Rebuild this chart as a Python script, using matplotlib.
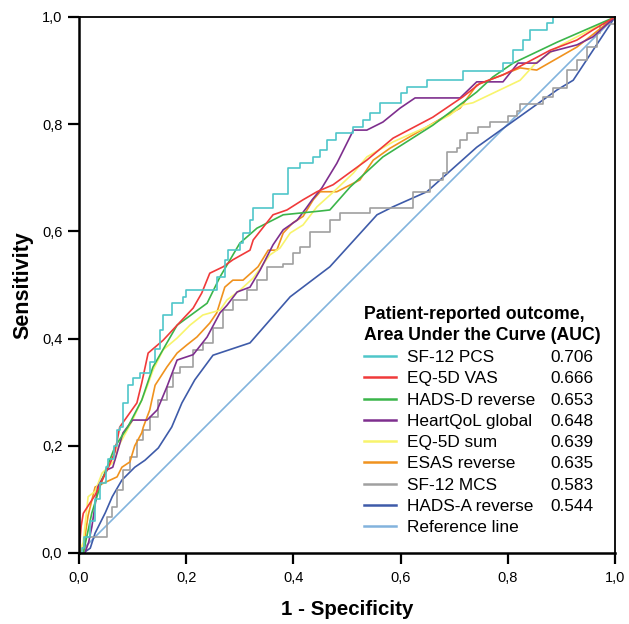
import matplotlib
matplotlib.use("Agg")
import matplotlib.pyplot as plt
from matplotlib.lines import Line2D

plt.rcParams['font.family'] = ['Liberation Sans', 'DejaVu Sans']

names = ["SF-12 PCS", "EQ-5D VAS", "HADS-D reverse", "HeartQoL global",
         "EQ-5D sum", "ESAS reverse", "SF-12 MCS", "HADS-A reverse", "Reference line"]
auc = ["0.706", "0.666", "0.653", "0.648", "0.639", "0.635", "0.583", "0.544", ""]
colors = ["#4fc6c9", "#f03a3a", "#3bb54a", "#7e2f8e", "#f8f46c", "#f0921e",
          "#a0a0a0", "#3e5ba9", "#82b3dd"]

pcs_x = [0, 0.005, 0.01, 0.02, 0.03, 0.04, 0.05, 0.055, 0.065, 0.07, 0.076, 0.083, 0.092, 0.1, 0.114,
         0.132, 0.142, 0.151, 0.157, 0.173, 0.194, 0.2, 0.25, 0.257, 0.272, 0.278, 0.3, 0.306, 0.319,
         0.325, 0.36, 0.362, 0.39, 0.412, 0.436, 0.45, 0.462, 0.48, 0.512, 0.53, 0.543, 0.562, 0.6,
         0.612, 0.649, 0.705, 0.717, 0.785, 0.791, 0.81, 0.828, 0.841, 0.873, 0.884, 1.0]
pcs_y = [0, 0.01, 0.03, 0.06, 0.1, 0.13, 0.16, 0.175, 0.2, 0.23, 0.235, 0.28, 0.313, 0.326, 0.336,
         0.356, 0.38, 0.416, 0.444, 0.466, 0.478, 0.49, 0.49, 0.515, 0.547, 0.565, 0.578, 0.597, 0.621,
         0.643, 0.643, 0.67, 0.718, 0.727, 0.739, 0.752, 0.77, 0.783, 0.795, 0.808, 0.82, 0.839, 0.858,
         0.87, 0.882, 0.882, 0.9, 0.9, 0.914, 0.938, 0.957, 0.976, 0.989, 1.0, 1.0]

vas_x = [0, 0.004, 0.008, 0.03, 0.054, 0.067, 0.076, 0.108, 0.117, 0.129, 0.157, 0.183, 0.213, 0.229,
         0.244, 0.269, 0.287, 0.319, 0.325, 0.362, 0.388, 0.418, 0.444, 0.474, 0.537, 0.586, 0.66,
         0.716, 0.748, 0.791, 0.817, 0.879, 0.929, 0.959, 1.0]
vas_y = [0, 0.05, 0.074, 0.108, 0.158, 0.188, 0.235, 0.28, 0.317, 0.373, 0.397, 0.425, 0.457, 0.485,
         0.522, 0.534, 0.547, 0.565, 0.584, 0.631, 0.64, 0.659, 0.674, 0.687, 0.733, 0.774, 0.813,
         0.851, 0.876, 0.892, 0.905, 0.938, 0.957, 0.976, 1.0]

hadsd_x = [0, 0.008, 0.024, 0.043, 0.067, 0.091, 0.117, 0.138, 0.183, 0.239, 0.263, 0.3, 0.332, 0.381,
           0.45, 0.468, 0.506, 0.567, 0.66, 0.742, 0.772, 0.81, 0.892, 1.0]
hadsd_y = [0, 0.0, 0.075, 0.136, 0.198, 0.235, 0.285, 0.347, 0.425, 0.466, 0.515, 0.578, 0.606, 0.631,
           0.638, 0.64, 0.683, 0.739, 0.798, 0.86, 0.888, 0.914, 0.953, 1.0]

hqol_x = [0, 0.011, 0.018, 0.024, 0.035, 0.052, 0.063, 0.082, 0.1, 0.127, 0.146, 0.164, 0.183, 0.213,
          0.239, 0.263, 0.276, 0.295, 0.319, 0.338, 0.362, 0.381, 0.407, 0.425, 0.435, 0.453, 0.481,
          0.512, 0.537, 0.567, 0.599, 0.627, 0.711, 0.742, 0.791, 0.819, 0.854, 0.879, 0.929, 0.959, 1.0]
hqol_y = [0, 0.0, 0.02, 0.049, 0.123, 0.155, 0.16, 0.224, 0.248, 0.248, 0.267, 0.31, 0.36, 0.37,
          0.403, 0.448, 0.462, 0.487, 0.496, 0.528, 0.575, 0.603, 0.621, 0.645, 0.659, 0.681, 0.727,
          0.789, 0.789, 0.804, 0.83, 0.849, 0.849, 0.879, 0.879, 0.914, 0.914, 0.935, 0.948, 0.963, 1.0]

eqsum_x = [0, 0.008, 0.017, 0.03, 0.043, 0.067, 0.073, 0.1, 0.117, 0.127, 0.138, 0.157, 0.183, 0.207,
           0.231, 0.263, 0.276, 0.3, 0.325, 0.338, 0.356, 0.375, 0.394, 0.418, 0.444, 0.474, 0.512,
           0.537, 0.586, 0.649, 0.692, 0.716, 0.735, 0.823, 0.854, 0.9, 1.0]
eqsum_y = [0, 0.02, 0.105, 0.115, 0.149, 0.173, 0.198, 0.248, 0.285, 0.31, 0.341, 0.379, 0.401, 0.425,
           0.444, 0.453, 0.472, 0.49, 0.513, 0.531, 0.556, 0.569, 0.597, 0.612, 0.646, 0.673, 0.709,
           0.739, 0.767, 0.795, 0.817, 0.836, 0.84, 0.882, 0.916, 0.948, 1.0]

esas_x = [0, 0.008, 0.017, 0.03, 0.071, 0.08, 0.095, 0.104, 0.117, 0.12, 0.132, 0.142, 0.164, 0.183,
          0.201, 0.22, 0.244, 0.257, 0.272, 0.287, 0.306, 0.334, 0.353, 0.369, 0.381, 0.399, 0.418,
          0.437, 0.45, 0.481, 0.524, 0.549, 0.58, 0.649, 0.68, 0.711, 0.742, 0.823, 0.854, 0.929, 1.0]
esas_y = [0, 0.01, 0.07, 0.123, 0.142, 0.16, 0.17, 0.2, 0.224, 0.235, 0.267, 0.313, 0.347, 0.373,
          0.388, 0.403, 0.429, 0.448, 0.496, 0.509, 0.509, 0.534, 0.565, 0.565, 0.597, 0.616, 0.628,
          0.659, 0.674, 0.674, 0.696, 0.733, 0.755, 0.795, 0.813, 0.83, 0.873, 0.905, 0.901, 0.944, 1.0]

mcs_x = [0, 0.011, 0.045, 0.052, 0.062, 0.071, 0.082, 0.095, 0.108, 0.12, 0.132, 0.148, 0.164, 0.176,
         0.188, 0.213, 0.231, 0.25, 0.269, 0.287, 0.313, 0.332, 0.351, 0.381, 0.399, 0.412, 0.431,
         0.468, 0.487, 0.543, 0.621, 0.624, 0.651, 0.655, 0.679, 0.687, 0.705, 0.711, 0.724, 0.744,
         0.767, 0.798, 0.8, 0.817, 0.823, 0.854, 0.866, 0.884, 0.91, 0.929, 0.948, 0.966, 0.972, 1.0]
mcs_y = [0, 0.03, 0.03, 0.067, 0.086, 0.118, 0.155, 0.179, 0.211, 0.23, 0.254, 0.285, 0.31, 0.336,
         0.347, 0.379, 0.392, 0.42, 0.453, 0.472, 0.49, 0.509, 0.534, 0.54, 0.559, 0.571, 0.599,
         0.621, 0.634, 0.643, 0.643, 0.674, 0.674, 0.696, 0.709, 0.748, 0.755, 0.77, 0.783, 0.795,
         0.804, 0.804, 0.815, 0.825, 0.838, 0.838, 0.851, 0.868, 0.901, 0.92, 0.944, 0.97, 0.987, 1.0]

hadsa_x = [0, 0.008, 0.021, 0.03, 0.049, 0.062, 0.08, 0.104, 0.123, 0.148, 0.173, 0.192, 0.216,
           0.25, 0.319, 0.394, 0.468, 0.556, 0.586, 0.649, 0.742, 0.892, 0.922, 1.0]
hadsa_y = [0, 0.0, 0.009, 0.037, 0.075, 0.105, 0.136, 0.16, 0.173, 0.196, 0.235, 0.28, 0.323,
           0.369, 0.392, 0.478, 0.534, 0.631, 0.646, 0.674, 0.757, 0.864, 0.882, 1.0]

ref_x = [0, 1]
ref_y = [0, 1]

series = [(pcs_x, pcs_y, 'steps-post'), (vas_x, vas_y, 'default'), (hadsd_x, hadsd_y, 'default'),
          (hqol_x, hqol_y, 'default'), (eqsum_x, eqsum_y, 'default'), (esas_x, esas_y, 'default'),
          (mcs_x, mcs_y, 'steps-post'), (hadsa_x, hadsa_y, 'default'), (ref_x, ref_y, 'default')]

ticks = [0.0, 0.2, 0.4, 0.6, 0.8, 1.0]
tick_labels = ["0,0", "0,2", "0,4", "0,6", "0,8", "1,0"]

fig = plt.figure(figsize=(6.29, 6.24), dpi=100)
ax = fig.add_axes([79/629, 71/624, 536/629, 536/624])

draw_order = [8, 6, 7, 5, 4, 3, 2, 1, 0]
handles = [None]*9
for i in draw_order:
    x, y, ds = series[i]
    ax.plot(x, y, color=colors[i], lw=1.2, drawstyle=ds, zorder=2 + (9-i)*0.01)
    handles[i] = Line2D([], [], color=colors[i], lw=1.8)

ax.set_xlim(0, 1)
ax.set_ylim(0, 1)
ax.set_xticks(ticks)
ax.set_xticklabels(tick_labels)
ax.set_yticks(ticks)
ax.set_yticklabels(tick_labels)
ax.tick_params(direction='out', length=8, width=1.6, labelsize=10.5, pad=5, colors='black')
ax.tick_params(axis='y', length=8, pad=4)
for s in ['left', 'bottom']:
    ax.spines[s].set_linewidth(1.8)
for s in ['top', 'right']:
    ax.spines[s].set_linewidth(1.3)
ax.set_xlabel("1 - Specificity", fontsize=14.8, fontweight='bold', labelpad=11)
ax.set_ylabel("Sensitivity", fontsize=15.5, fontweight='bold', labelpad=6)

leg = ax.legend(handles, names, loc='upper left',
                bbox_to_anchor=((364-79)/536, (553-306)/536),
                frameon=False, fontsize=12.4, handlelength=1.85, handletextpad=0.65,
                labelspacing=0.36, borderpad=0, borderaxespad=0,
                title="Patient-reported outcome,\nArea Under the Curve (AUC)",
                title_fontproperties={'weight': 'bold', 'size': 12.7}, alignment='left')
leg.get_title().set_linespacing(1.3)

fig.canvas.draw()
inv = fig.transFigure.inverted()
for t, v in zip(leg.get_texts(), auc):
    if not v:
        continue
    bb = t.get_window_extent()
    yc = inv.transform(((bb.x0 + bb.x1)/2, (bb.y0 + bb.y1)/2))[1]
    fig.text(550/629, yc, v, fontsize=12.4, va='center', ha='left')

fig.savefig("out.png", dpi=100)
